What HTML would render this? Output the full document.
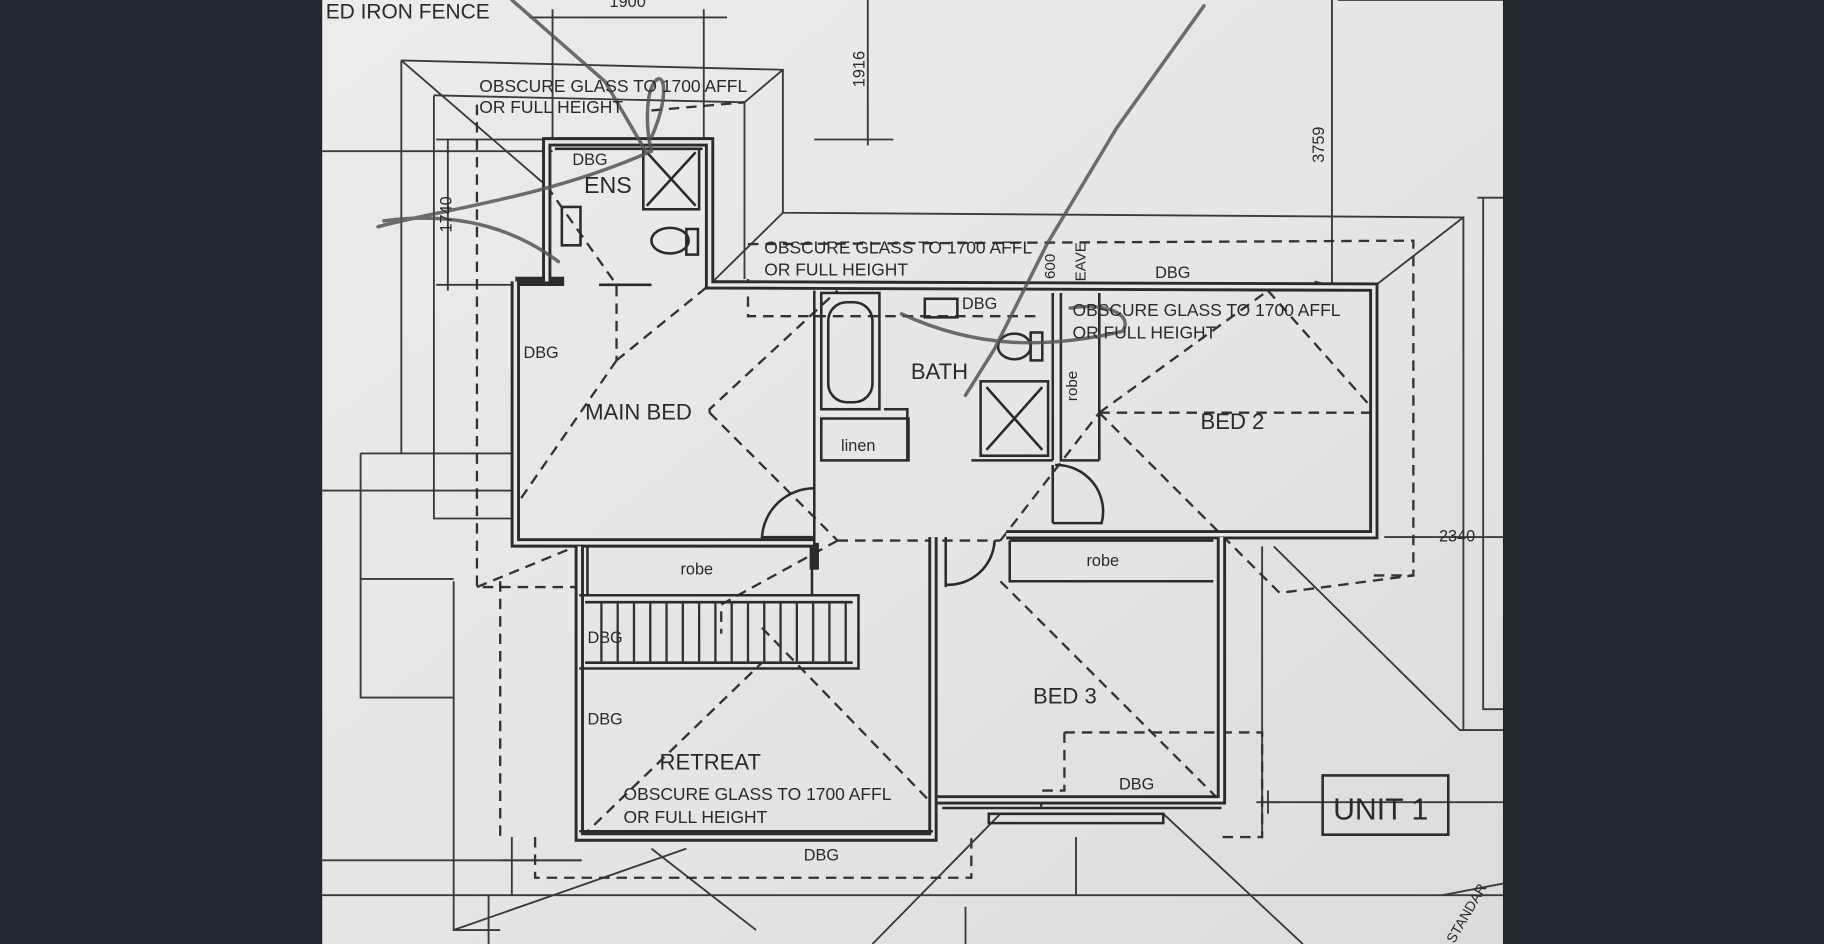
<!DOCTYPE html>
<html><head><meta charset="utf-8"><style>
html,body{margin:0;padding:0;background:#1f272f;width:1824px;height:944px;overflow:hidden}
svg{display:block}
text{font-family:"Liberation Sans",sans-serif;fill:#2a2a2a}
</style></head><body>
<svg width="1824" height="944" viewBox="0 0 1568 812" preserveAspectRatio="none" xmlns="http://www.w3.org/2000/svg">
<defs>
<linearGradient id="pg" x1="0" y1="0" x2="1" y2="1">
<stop offset="0" stop-color="#ececea"/><stop offset="0.5" stop-color="#e6e6e4"/><stop offset="1" stop-color="#dcdcda"/>
</linearGradient>
</defs>
<rect x="0" y="0" width="1568" height="812" fill="#1f272f"/>
<rect x="277" y="0" width="1015" height="812" fill="url(#pg)"/>

<!-- thin construction lines -->
<g stroke="#3a3a3a" stroke-width="1.6" fill="none">
<path d="M345,52 L673,60 L673,183 L1258,187 L1258,628"/>
<path d="M345,52 L345,390"/>
<path d="M373,82 L640,88 L640,240"/>
<path d="M373,82 L373,446 L440,446"/>
<path d="M277,130 L475,130"/>
<path d="M345,52 L470,160"/>
<path d="M673,60 L640,88"/>
<path d="M673,183 L612,243"/>
<path d="M1258,187 L1183,245"/>
<path d="M310,390 L440,390 M310,390 L310,600 L390,600 M310,498 L390,498"/>
<path d="M277,422 L440,422"/>
<path d="M390,500 L390,800 L430,800"/>
<path d="M390,800 L590,730"/>
<path d="M560,730 L650,800"/>
<path d="M277,740 L500,740 M277,770 L1292,770"/>
<path d="M420,770 L420,812 M830,780 L830,812 M1240,770 L1292,760"/>
<path d="M1085,690 L1292,690"/>
<path d="M1085,470 L1085,720"/>
<path d="M1095,470 L1255,628 L1292,628"/>
<path d="M1270,170 L1292,170 M1275,170 L1275,610 L1292,610"/>
<path d="M1145,0 L1145,245 M1130,242 L1160,250"/>
<path d="M746,0 L746,125 M700,120 L768,120"/>
<path d="M475,8 L475,120 M605,8 L605,120 M455,15 L625,15"/>
<path d="M385,120 L385,250 M375,120 L470,120 M375,245 L440,245"/>
<path d="M1190,462 L1292,462"/>
<path d="M1080,690 L1100,690 M1090,680 L1090,700"/>
<path d="M1150,0 L1292,0"/>
<path d="M860,700 L750,812 M1000,700 L1120,812"/>
<path d="M925,720 L925,770"/>
<path d="M440,720 L440,770 M430,740 L500,740"/>
</g>

<!-- dashed roof lines -->
<g stroke="#333" stroke-width="2" fill="none" stroke-dasharray="9,6">
<path d="M410,90 L410,505 L495,505"/>
<path d="M410,505 L495,470"/>
<path d="M470,160 L530,245 L530,310"/>
<path d="M530,310 L610,245"/>
<path d="M530,310 L440,440"/>
<path d="M560,95 L640,88"/>
<path d="M643,240 L643,272 L890,272"/>
<path d="M643,210 L1215,207 L1215,495 L1180,495"/>
<path d="M610,355 L720,465"/>
<path d="M610,355 L610,352 L720,250"/>
<path d="M720,465 L860,465"/>
<path d="M945,355 L1183,355"/>
<path d="M945,355 L1090,250 M1090,250 L1183,355"/>
<path d="M945,355 L1100,510 L1215,495"/>
<path d="M860,465 L945,355"/>
<path d="M860,500 L1050,690"/>
<path d="M915,630 L1085,630 L1085,720 L1050,720"/>
<path d="M915,630 L915,680 L895,680 L895,700"/>
<path d="M720,465 L620,520 L620,545"/>
<path d="M655,540 L800,690"/>
<path d="M500,720 L655,570"/>
<path d="M460,720 L460,755 L835,755 L835,720"/>
<path d="M430,500 L430,720"/>
<path d="M500,570 L500,720"/>
</g>

<!-- walls (double lines) -->
<g fill="none" stroke-linejoin="miter">
<g stroke="#2b2b2b" stroke-width="8">
<path d="M470,242 L470,122 L610,122 L610,245 L1181,247 L1181,460 L865,460"/>
<path d="M443,242 L443,467 L700,467"/>
<path d="M443,242 L485,242"/>
<path d="M498,470 L498,720 L802,720 L802,462"/>
<path d="M806,688 L1050,688 L1050,462"/>
<path d="M700,467 L700,490"/>
</g>
<g stroke="#e8e8e6" stroke-width="3">
<path d="M470,242 L470,122 L610,122 L610,245 L1181,247 L1181,460 L865,460"/>
<path d="M443,242 L443,467 L700,467"/>
<path d="M498,470 L498,720 L802,720 L802,462"/>
<path d="M806,688 L1050,688 L1050,462"/>
</g>
</g>
<g stroke="#2b2b2b" stroke-width="2.2" fill="none">
<path d="M477,128 L604,128"/>
<rect x="553" y="128" width="48" height="52"/><path d="M556,131 L598,177 M598,131 L556,177"/>
<ellipse cx="576" cy="207" rx="16" ry="11"/><rect x="590" y="197" width="10" height="22"/>
<rect x="483" y="178" width="16" height="33"/>
<path d="M515,245 L560,245"/>
<rect x="706" y="252" width="50" height="100"/><rect x="712" y="260" width="38" height="86" rx="16"/>
<rect x="706" y="360" width="75" height="36"/>
<path d="M700,250 L700,470"/>
<path d="M760,352 L780,352 L780,396"/>
<rect x="795" y="257" width="28" height="16"/>
<ellipse cx="872" cy="298" rx="14" ry="11"/><rect x="886" y="286" width="10" height="24"/>
<rect x="843" y="328" width="58" height="64"/><path d="M848,333 L896,387 M896,333 L848,387"/>
<path d="M835,396 L905,396"/>
<path d="M905,252 L905,396 M912,252 L912,396 L945,396"/>
<path d="M945,252 L945,396"/>
<path d="M905,400 L905,450 M907,400 A40,40 0 0 1 947,450 L905,450"/>
<path d="M700,420 A45,45 0 0 0 655,462 L700,462"/>
<path d="M700,470 L700,490"/>
<path d="M505,470 L505,512 L698,512 L698,470"/>
<path d="M498,512 L738,512 L738,575 L498,575"/>
<path d="M503,518 L733,518 M503,570 L733,570"/>
<path d="M868,465 L868,500 L1043,500 M1043,465 L868,465"/>
<path d="M813,462 L813,505 M813,503 A40,40 0 0 0 855,465"/>
<path d="M498,715 L802,715 M810,695 L1050,695 M850,700 L1000,700 L1000,708 L850,708 Z"/>
<rect x="1137" y="667" width="108" height="51"/>
</g>
<g stroke="#333" stroke-width="2">
<path d="M517,518 L517,570 M531,518 L531,570 M545,518 L545,570 M559,518 L559,570 M573,518 L573,570 M587,518 L587,570 M601,518 L601,570 M615,518 L615,570 M629,518 L629,570 M643,518 L643,570 M657,518 L657,570 M671,518 L671,570 M685,518 L685,570 M699,518 L699,570 M713,518 L713,570 M727,518 L727,570"/>
</g>

<!-- pen scribbles -->
<g stroke="#555" stroke-width="3" fill="none" stroke-linecap="round" opacity="0.85">
<path d="M440,0 L520,70 L555,130"/>
<path d="M1035,5 L960,110 L900,210 L855,300 L830,340"/>
<path d="M325,195 C380,180 470,170 560,130"/>
<path d="M330,190 C390,182 440,195 480,225"/>
<path d="M560,118 C575,85 572,60 563,70 C555,80 555,110 560,130"/>
<path d="M775,270 C840,300 900,300 965,285 C975,270 950,260 920,265"/>
</g>

<!-- text -->
<g font-size="15">
<text x="280" y="16" font-size="18">ED IRON FENCE</text>
<text x="524" y="6" font-size="14">1900</text>
<text x="412" y="79">OBSCURE GLASS TO 1700 AFFL</text>
<text x="412" y="97">OR FULL HEIGHT</text>
<text x="492" y="142" font-size="14">DBG</text>
<text x="502" y="166" font-size="20">ENS</text>
<text x="450" y="308" font-size="14">DBG</text>
<text x="503" y="361" font-size="19">MAIN BED</text>
<text x="657" y="218">OBSCURE GLASS TO 1700 AFFL</text>
<text x="657" y="237">OR FULL HEIGHT</text>
<text x="993" y="239" font-size="14">DBG</text>
<text x="827" y="266" font-size="14">DBG</text>
<text x="922" y="272">OBSCURE GLASS TO 1700 AFFL</text>
<text x="922" y="291">OR FULL HEIGHT</text>
<text x="783" y="326" font-size="19">BATH</text>
<text x="1032" y="369" font-size="19">BED 2</text>
<text x="723" y="388" font-size="14">linen</text>
<text x="585" y="494" font-size="14">robe</text>
<text x="934" y="487" font-size="14">robe</text>
<text x="1237" y="466" font-size="14">2340</text>
<text x="505" y="553" font-size="14">DBG</text>
<text x="505" y="623" font-size="14">DBG</text>
<text x="888" y="605" font-size="19">BED 3</text>
<text x="567" y="662" font-size="19">RETREAT</text>
<text x="536" y="688">OBSCURE GLASS TO 1700 AFFL</text>
<text x="536" y="708">OR FULL HEIGHT</text>
<text x="962" y="679" font-size="14">DBG</text>
<text x="691" y="740" font-size="14">DBG</text>
<text x="1146" y="705" font-size="26">UNIT 1</text>
<text transform="translate(743,75) rotate(-90)" font-size="14">1916</text>
<text transform="translate(1138,140) rotate(-90)" font-size="14">3759</text>
<text transform="translate(388,200) rotate(-90)" font-size="14">1740</text>
<text transform="translate(907,240) rotate(-90)" font-size="13">600</text>
<text transform="translate(933,242) rotate(-90)" font-size="13">EAVE</text>
<text transform="translate(926,345) rotate(-90)" font-size="13">robe</text>
<text transform="translate(1250,812) rotate(-60)" font-size="12">STANDAR</text>
</g>
</svg>
</body></html>
